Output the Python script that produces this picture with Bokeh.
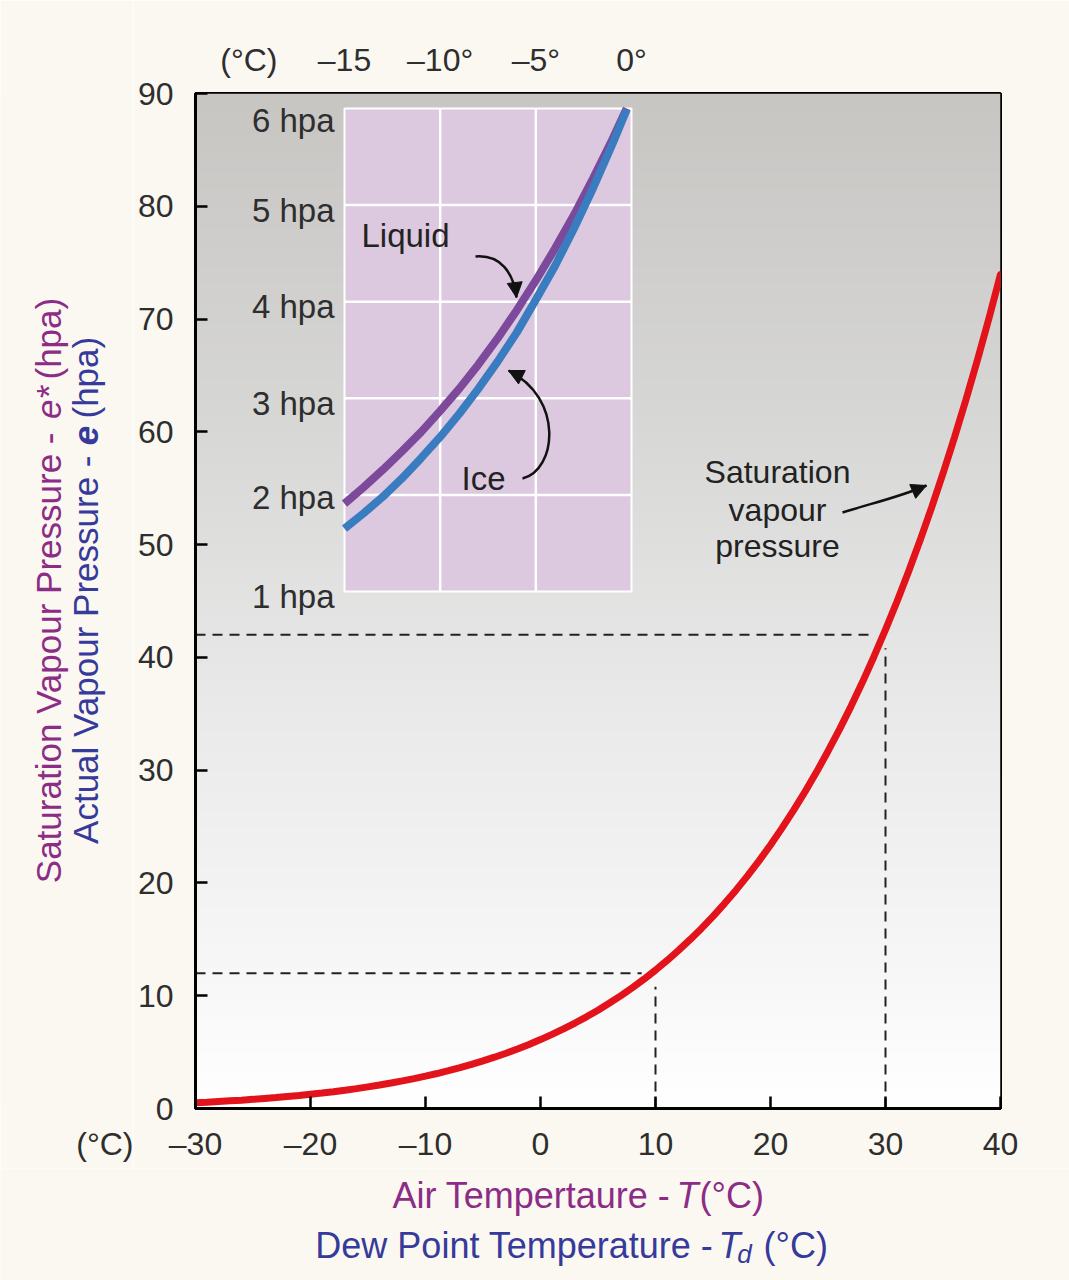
import numpy as np
from bokeh.plotting import figure
from bokeh.layouts import row, column
from bokeh.models import (Range1d, LinearAxis, FixedTicker, Arrow, Label,
                          NormalHead, ColumnDataSource)
from bokeh.core.properties import value
from bokeh.embed import file_html
from bokeh.resources import INLINE

# ---------------- data ----------------
temp_c = list(range(-30, 41))
sat_vp = [0.51, 0.56, 0.62, 0.68, 0.74, 0.81, 0.89, 0.97, 1.06, 1.15,
          1.26, 1.37, 1.49, 1.62, 1.76, 1.92, 2.08, 2.26, 2.45, 2.65,
          2.87, 3.10, 3.35, 3.62, 3.91, 4.22, 4.55, 4.90, 5.28, 5.68,
          6.11, 6.57, 7.06, 7.58, 8.13, 8.72, 9.35, 10.01, 10.72, 11.47,
          12.27, 13.12, 14.02, 14.97, 15.97, 17.04, 18.17, 19.36, 20.63, 21.96,
          23.37, 24.86, 26.43, 28.09, 29.83, 31.68, 33.62, 35.66, 37.81, 40.08,
          42.46, 44.96, 47.59, 50.36, 53.26, 56.31, 59.51, 62.87, 66.39, 70.08,
          73.95]

inset_t = [-15, -14, -13, -12, -11, -10, -9, -8, -7, -6, -5, -4, -3, -2, -1, -0.25]
liquid_vp = [1.91, 2.08, 2.26, 2.45, 2.65, 2.87, 3.10, 3.35, 3.62, 3.91,
             4.22, 4.55, 4.90, 5.28, 5.68, 6.00]
ice_vp = [1.65, 1.81, 1.98, 2.17, 2.38, 2.60, 2.84, 3.10, 3.38, 3.68,
          4.02, 4.37, 4.76, 5.18, 5.63, 5.99]

dew_t = [10, 30]
dew_e = [12, 42]

x_ticks = [-30, -20, -10, 0, 10, 20, 30, 40]
x_tick_labels = ["–30", "–20", "–10", "0", "10", "20", "30", "40"]
y_ticks = [0, 10, 20, 30, 40, 50, 60, 70, 80, 90]

inset_x_ticks = [-20, -15, -10, -5, 0]
inset_x_labels = ["(°C)", "–15", "–10°", "–5°", "0°"]
inset_levels = [1, 2, 3, 4, 5, 6]
inset_level_labels = ["1 hpa", "2 hpa", "3 hpa", "4 hpa", "5 hpa", "6 hpa"]
inset_grid_t = [-10, -5]
inset_grid_p = [2, 3, 4, 5]

# ---------------- layout constants (page pixels) ----------------
W, H = 1069, 1280
LW = 133                                      # left strip with the y titles
FL, FR, FT, FB = 195, 1000, 93, 1108          # main frame on the page
MB = 60                                       # space under the main frame
MH = FB + MB                                  # height of the upper row
IL, IR, IT, IB = 344, 631, 108, 591           # inset box on the page
X0, X1, Y0, Y1 = -30, 40, 0, 90
T0, T1, P0, P1 = -15, 0, 1, 6

sx = (FR - FL) / (X1 - X0)
sy = (FB - FT) / (Y1 - Y0)
isx = (IR - IL) / (T1 - T0)
isy = (IB - IT) / (P1 - P0)


def mx(px):
    return X0 + (px - FL) / sx


def my(py):
    return (FB - py) / sy


def ix(px):
    return T0 + (px - IL) / isx


def iy(py):
    return P0 + (IB - py) / isy


FONT = "Liberation Sans"
TXT = "#2e2e2e"
PURPLE_T = "#8c2c86"
BLUE_T = "#363a9a"
CREAM = "#fbf8f1"

p = figure(x_range=Range1d(X0, X1), y_range=Range1d(Y0, Y1),
           frame_width=FR - FL, frame_height=FB - FT,
           min_border_left=FL - LW, min_border_right=W - FR,
           min_border_top=FT, min_border_bottom=MB,
           output_backend="svg", toolbar_location=None,
           border_fill_color=CREAM, background_fill_color="white")
p.grid.visible = False
p.outline_line_color = "black"
p.outline_line_width = 3
p.outline_line_alpha = 1

p.extra_x_ranges = {"inset": Range1d(ix(FL), ix(FR))}
p.extra_y_ranges = {"inset": Range1d(iy(FB), iy(FT))}

# ---------------- background gradient ----------------
N = 256
frac = np.linspace(0, 1, N)
stops = [0, 0.14, 0.39, 0.70, 1.0]
r = np.interp(frac, stops, [255, 247, 234, 214, 200])
g = np.interp(frac, stops, [255, 247, 234, 214, 198])
b = np.interp(frac, stops, [255, 247, 234, 213, 195])
img = np.empty((N, 1), dtype=np.uint32)
view = img.view(dtype=np.uint8).reshape((N, 1, 4))
view[:, 0, 0] = r.astype(np.uint8)
view[:, 0, 1] = g.astype(np.uint8)
view[:, 0, 2] = b.astype(np.uint8)
view[:, 0, 3] = 255
p.image_rgba(image=[img], x=X0, y=Y0, dw=X1 - X0, dh=Y1 - Y0)

# ---------------- axes ----------------
for ax in (p.xaxis[0], p.yaxis[0]):
    ax.axis_line_width = 3
    ax.axis_line_color = "black"
    ax.major_tick_in = 12
    ax.major_tick_out = 0
    ax.major_tick_line_width = 2.5
    ax.major_tick_line_color = "black"
    ax.minor_tick_line_color = None
    ax.major_label_text_font = FONT
    ax.major_label_text_font_size = "32px"
    ax.major_label_text_color = TXT

p.xaxis.ticker = FixedTicker(ticks=x_ticks)
p.xaxis.major_label_overrides = dict(zip(x_ticks, x_tick_labels))
p.xaxis.major_label_standoff = 17
p.yaxis.ticker = FixedTicker(ticks=y_ticks)
p.yaxis.major_label_standoff = 22

top = LinearAxis(x_range_name="inset", ticker=FixedTicker(ticks=inset_x_ticks),
                 major_label_overrides=dict(zip(inset_x_ticks, inset_x_labels)),
                 axis_line_color=None, major_tick_line_color=None,
                 minor_tick_line_color=None, major_label_standoff=10,
                 major_label_text_font=FONT, major_label_text_font_size="32px",
                 major_label_text_color=TXT)
p.add_layout(top, "above")

# ---------------- dashed guide lines ----------------
gap = 1.2
p.segment(x0=[X0] * len(dew_t), y0=dew_e, x1=[t - gap for t in dew_t], y1=dew_e,
          line_color="#222222", line_width=2, line_dash="10 7")
p.segment(x0=dew_t, y0=[Y0] * len(dew_t), x1=dew_t, y1=[e - gap for e in dew_e],
          line_color="#222222", line_width=2, line_dash="10 7")

# ---------------- inset ----------------
IR_ = dict(x_range_name="inset", y_range_name="inset")
p.quad(left=T0, right=T1, bottom=P0, top=P1, fill_color="#dcc8df",
       line_color="white", line_width=2, **IR_)
p.segment(x0=inset_grid_t, y0=[P0] * 2, x1=inset_grid_t, y1=[P1] * 2,
          line_color="white", line_width=2.5, **IR_)
p.segment(x0=[T0] * 4, y0=inset_grid_p, x1=[T1] * 4, y1=inset_grid_p,
          line_color="white", line_width=2.5, **IR_)
p.line(inset_t, liquid_vp, line_color="#7d4a9b", line_width=8, **IR_)
p.line(inset_t, ice_vp, line_color="#3a7cc0", line_width=8, **IR_)

lvl_src = ColumnDataSource(dict(x=[T0] * 6, y=inset_levels, text=inset_level_labels,
                                yoff=[5, 3, 5, 5, 5, 12]))
p.text(x="x", y="y", text="text", y_offset="yoff", x_offset=-10, source=lvl_src,
       text_align="right", text_baseline="middle", text_font=value(FONT),
       text_font_size="33px", text_color=TXT, **IR_)

p.text(x=[ix(405), ix(483)], y=[iy(235), iy(478)], text=["Liquid", "Ice"],
       text_align="center", text_baseline="middle", text_font=value(FONT),
       text_font_size="33px", text_color="#222222", **IR_)


def curved_arrow(pts, conv_x, conv_y, **kw):
    (x0, y0), (c0x, c0y), (c1x, c1y), (x1, y1) = pts
    X = [conv_x(v) for v in (x0, c0x, c1x, x1)]
    Y = [conv_y(v) for v in (y0, c0y, c1y, y1)]
    p.bezier(x0=[X[0]], y0=[Y[0]], cx0=[X[1]], cy0=[Y[1]], cx1=[X[2]], cy1=[Y[2]],
             x1=[X[3]], y1=[Y[3]], line_color="#111111", line_width=2.5, **kw)
    dx, dy = x1 - c1x, y1 - c1y
    L = (dx * dx + dy * dy) ** 0.5
    sxp, syp = x1 - dx / L * 6, y1 - dy / L * 6
    p.add_layout(Arrow(end=NormalHead(size=15, fill_color="#111111", line_color="#111111"),
                       x_start=conv_x(sxp), y_start=conv_y(syp),
                       x_end=conv_x(x1), y_end=conv_y(y1),
                       line_color="#111111", line_width=2.5, **kw))


curved_arrow([(475, 256), (500, 254), (513, 272), (516, 297)], ix, iy, **IR_)
curved_arrow([(522, 478), (556, 470), (564, 398), (508, 370)], ix, iy, **IR_)
curved_arrow([(842, 512), (870, 503), (898, 497), (926, 485)], mx, my)

p.text(x=[mx(777)] * 3, y=[my(471), my(509), my(545)],
       text=["Saturation", "vapour", "pressure"], text_align="center",
       text_baseline="middle", text_font=value(FONT), text_font_size="32px",
       text_color="#222222")

# ---------------- main curve ----------------
p.line(temp_c, sat_vp, line_color="#e3131b", line_width=7, line_cap="round")

# ---------------- left strip (same vertical frame as the main plot) ----------------
left = figure(x_range=Range1d(0, LW), y_range=Range1d(MH - FB, MH - FT),
              frame_width=LW, frame_height=FB - FT,
              min_border_left=0, min_border_right=0,
              min_border_top=FT, min_border_bottom=MB,
              x_axis_location=None, y_axis_location=None,
              output_backend="svg", toolbar_location=None,
              background_fill_color=CREAM, border_fill_color=CREAM)
left.grid.visible = False
left.outline_line_color = None

# ---------------- bottom strip ----------------
BH = H - MH
bottom = figure(width=W, height=BH, x_range=Range1d(0, W), y_range=Range1d(0, BH),
                min_border=0, x_axis_location=None, y_axis_location=None,
                output_backend="svg", toolbar_location=None,
                background_fill_color=CREAM, border_fill_color=CREAM)
bottom.grid.visible = False
bottom.outline_line_color = None


def ttxt(f, oy, text, px, py, color, size="35px", align="center", style="normal", angle=0):
    f.text(x=[px], y=[oy - py], text=[text], text_color=color, text_font=value(FONT),
           text_font_size=size, text_align=align, text_baseline="middle",
           text_font_style=style, angle=angle)


A = np.pi / 2
ttxt(left, MH, "Saturation Vapour Pressure -", 48, 432, PURPLE_T, align="right", angle=A)
ttxt(left, MH, "e*", 48, 402, PURPLE_T, style="italic", angle=A)
ttxt(left, MH, "(hpa)", 48, 379, PURPLE_T, align="left", angle=A)

ttxt(left, MH, "Actual Vapour Pressure -", 85, 455, BLUE_T, align="right", angle=A)
ttxt(left, MH, "e", 85, 435, BLUE_T, style="bold italic", angle=A)
ttxt(left, MH, "(hpa)", 85, 418, BLUE_T, align="left", angle=A)

left.add_layout(Label(x=LW, y=MH - 1143, text="(°C)", text_color=TXT, text_font=FONT,
                      text_font_size="32px", text_align="right",
                      text_baseline="middle"), "below")

ttxt(bottom, H, "Air Tempertaure -", 670, 1195, PURPLE_T, size="36px", align="right")
ttxt(bottom, H, "T", 687, 1195, PURPLE_T, size="36px", style="italic")
ttxt(bottom, H, "(°C)", 699, 1195, PURPLE_T, size="36px", align="left")

ttxt(bottom, H, "Dew Point Temperature -", 713, 1245, BLUE_T, size="36px", align="right")
ttxt(bottom, H, "T", 729, 1245, BLUE_T, size="36px", style="italic")
ttxt(bottom, H, "d", 744, 1253, BLUE_T, size="26px", style="italic")
ttxt(bottom, H, "(°C)", 763, 1245, BLUE_T, size="36px", align="left")

layout = column(row(left, p), bottom)
open("out.html", "w").write(file_html(layout, INLINE))
